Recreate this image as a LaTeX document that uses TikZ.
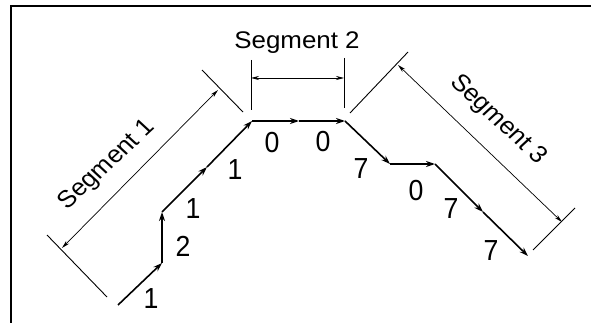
\documentclass[tikz,border=0pt]{standalone}
\usepackage{fontspec}
\setmainfont{Liberation Sans}
\usetikzlibrary{arrows.meta}
\begin{document}
\begin{tikzpicture}[x=1pt,y=-1pt,
  chainstep/.style={line width=1.6pt,-{Stealth[length=9pt,width=6pt]}},
  dimline/.style={line width=0.7pt,{Stealth[length=8pt,width=4pt]}-{Stealth[length=8pt,width=4pt]}},
  extline/.style={line width=0.9pt},
  framerule/.style={line width=2.6pt},
  codelabel/.style={inner sep=0pt,font=\fontsize{29}{31}\selectfont,xscale=0.92},
  seglabel/.style={inner sep=0pt,font=\fontsize{24}{28}\selectfont,xscale=1.08}]
\useasboundingbox (0,0) rectangle (591,323);
% frame
\draw[framerule] (11,323) -- (11,6) -- (591,6);

% chain code points
\coordinate (p0) at (118,305);
\coordinate (p1) at (162,263);
\coordinate (p2) at (162,212);
\coordinate (p3) at (207,167);
\coordinate (p4) at (252,121);
\coordinate (p5) at (299,121);
\coordinate (p6) at (345,121);
\coordinate (p7) at (390,164);
\coordinate (p8) at (435,164);
\coordinate (p9) at (483,212);
\coordinate (p10) at (528,256);

\draw[chainstep] (p0) -- (p1);
\draw[chainstep] (p1) -- (p2);
\draw[chainstep] (p2) -- (p3);
\draw[chainstep] (p3) -- (p4);
\draw[chainstep] (p4) -- (p5);
\draw[chainstep] (p5) -- (p6);
\draw[chainstep] (p6) -- (p7);
\draw[chainstep] (p7) -- (p8);
\draw[chainstep] (p8) -- (p9);
\draw[chainstep] (p9) -- (p10);

% direction codes
\node[codelabel] (c1) at (151,299) {1};
\node[codelabel] (c2) at (183,246) {2};
\node[codelabel] (c3) at (193,209) {1};
\node[codelabel] (c4) at (235,170) {1};
\node[codelabel] (c5) at (272,143) {0};
\node[codelabel] (c6) at (323,142) {0};
\node[codelabel] (c7) at (361,169) {7};
\node[codelabel] (c8) at (416,191) {0};
\node[codelabel] (c9) at (451,209) {7};
\node[codelabel] (c10) at (491,251) {7};

% segment 1 dimension
\coordinate (s1a) at (47,235);
\coordinate (s1b) at (107,297);
\coordinate (s1c) at (202,70);
\coordinate (s1d) at (243,112);
\coordinate (s1e) at (62,248);
\coordinate (s1f) at (218,90);
\draw[extline] (s1a) -- (s1b);
\draw[extline] (s1c) -- (s1d);
\draw[dimline] (s1e) -- (s1f);
\node[seglabel,rotate=45] (t1) at (107,165) {Segment 1};

% segment 2 dimension
\coordinate (s2a) at (251,60);
\coordinate (s2b) at (251,110);
\coordinate (s2c) at (344,58);
\coordinate (s2d) at (344,108);
\coordinate (s2e) at (251,78);
\coordinate (s2f) at (344,78);
\draw[extline] (s2a) -- (s2b);
\draw[extline] (s2c) -- (s2d);
\draw[dimline] (s2e) -- (s2f);
\node[seglabel] (t2) at (297,43) {Segment 2};

% segment 3 dimension
\coordinate (s3a) at (350,113);
\coordinate (s3b) at (408,52);
\coordinate (s3c) at (533,250);
\coordinate (s3d) at (575,208);
\coordinate (s3e) at (398,65);
\coordinate (s3f) at (562,222);
\draw[extline] (s3a) -- (s3b);
\draw[extline] (s3c) -- (s3d);
\draw[dimline] (s3e) -- (s3f);
\node[seglabel,rotate=-45] (t3) at (498,120) {Segment 3};
\end{tikzpicture}
\end{document}
